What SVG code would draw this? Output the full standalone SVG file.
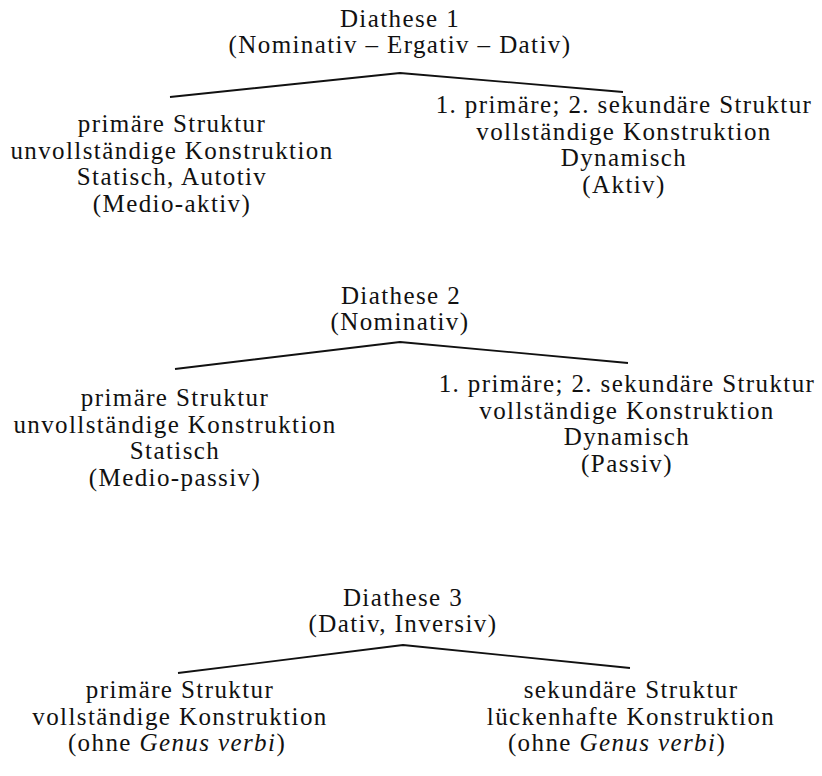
<svg xmlns="http://www.w3.org/2000/svg" width="822" height="776" viewBox="0 0 822 776">
<style>
text{font-family:"Liberation Serif","Times New Roman",serif;font-size:25px;letter-spacing:1.4px;fill:#111;text-anchor:middle}
.it{font-style:italic}
.br{fill:none;stroke:#111;stroke-width:1.8;stroke-linejoin:round}
</style>
<rect width="822" height="776" fill="#fff"/>
<g id="connectors">
<polyline class="br" points="170,97 400,73 623,92"/>
<polyline class="br" points="175,369 400,342 628,363"/>
<polyline class="br" points="178,673 403,645 630,668"/>
</g>
<g id="diathese1">
<text x="400" y="27">Diathese 1</text>
<text x="400" y="53">(Nominativ – Ergativ – Dativ)</text>
</g>
<g id="d1-left">
<text x="172" y="132">primäre Struktur</text>
<text x="172" y="158.5">unvollständige Konstruktion</text>
<text x="172" y="185">Statisch, Autotiv</text>
<text x="172" y="211.5">(Medio-aktiv)</text>
</g>
<g id="d1-right">
<text x="624" y="113">1. primäre; 2. sekundäre Struktur</text>
<text x="624" y="139.5">vollständige Konstruktion</text>
<text x="624" y="166">Dynamisch</text>
<text x="624" y="192.5">(Aktiv)</text>
</g>
<g id="diathese2">
<text x="401" y="304">Diathese 2</text>
<text x="400" y="330">(Nominativ)</text>
</g>
<g id="d2-left">
<text x="175" y="406">primäre Struktur</text>
<text x="175" y="432.5">unvollständige Konstruktion</text>
<text x="175" y="459">Statisch</text>
<text x="175" y="485.5">(Medio-passiv)</text>
</g>
<g id="d2-right">
<text x="627" y="392">1. primäre; 2. sekundäre Struktur</text>
<text x="627" y="418.5">vollständige Konstruktion</text>
<text x="627" y="445">Dynamisch</text>
<text x="627" y="471.5">(Passiv)</text>
</g>
<g id="diathese3">
<text x="403" y="606">Diathese 3</text>
<text x="403" y="632">(Dativ, Inversiv)</text>
</g>
<g id="d3-left">
<text x="180" y="698">primäre Struktur</text>
<text x="180" y="724.5">vollständige Konstruktion</text>
<text x="177" y="751" letter-spacing="2">(ohne <tspan class="it">Genus verbi</tspan>)</text>
</g>
<g id="d3-right">
<text x="631" y="698">sekundäre Struktur</text>
<text x="631" y="724.5">lückenhafte Konstruktion</text>
<text x="617" y="751" letter-spacing="2">(ohne <tspan class="it">Genus verbi</tspan>)</text>
</g>
</svg>
